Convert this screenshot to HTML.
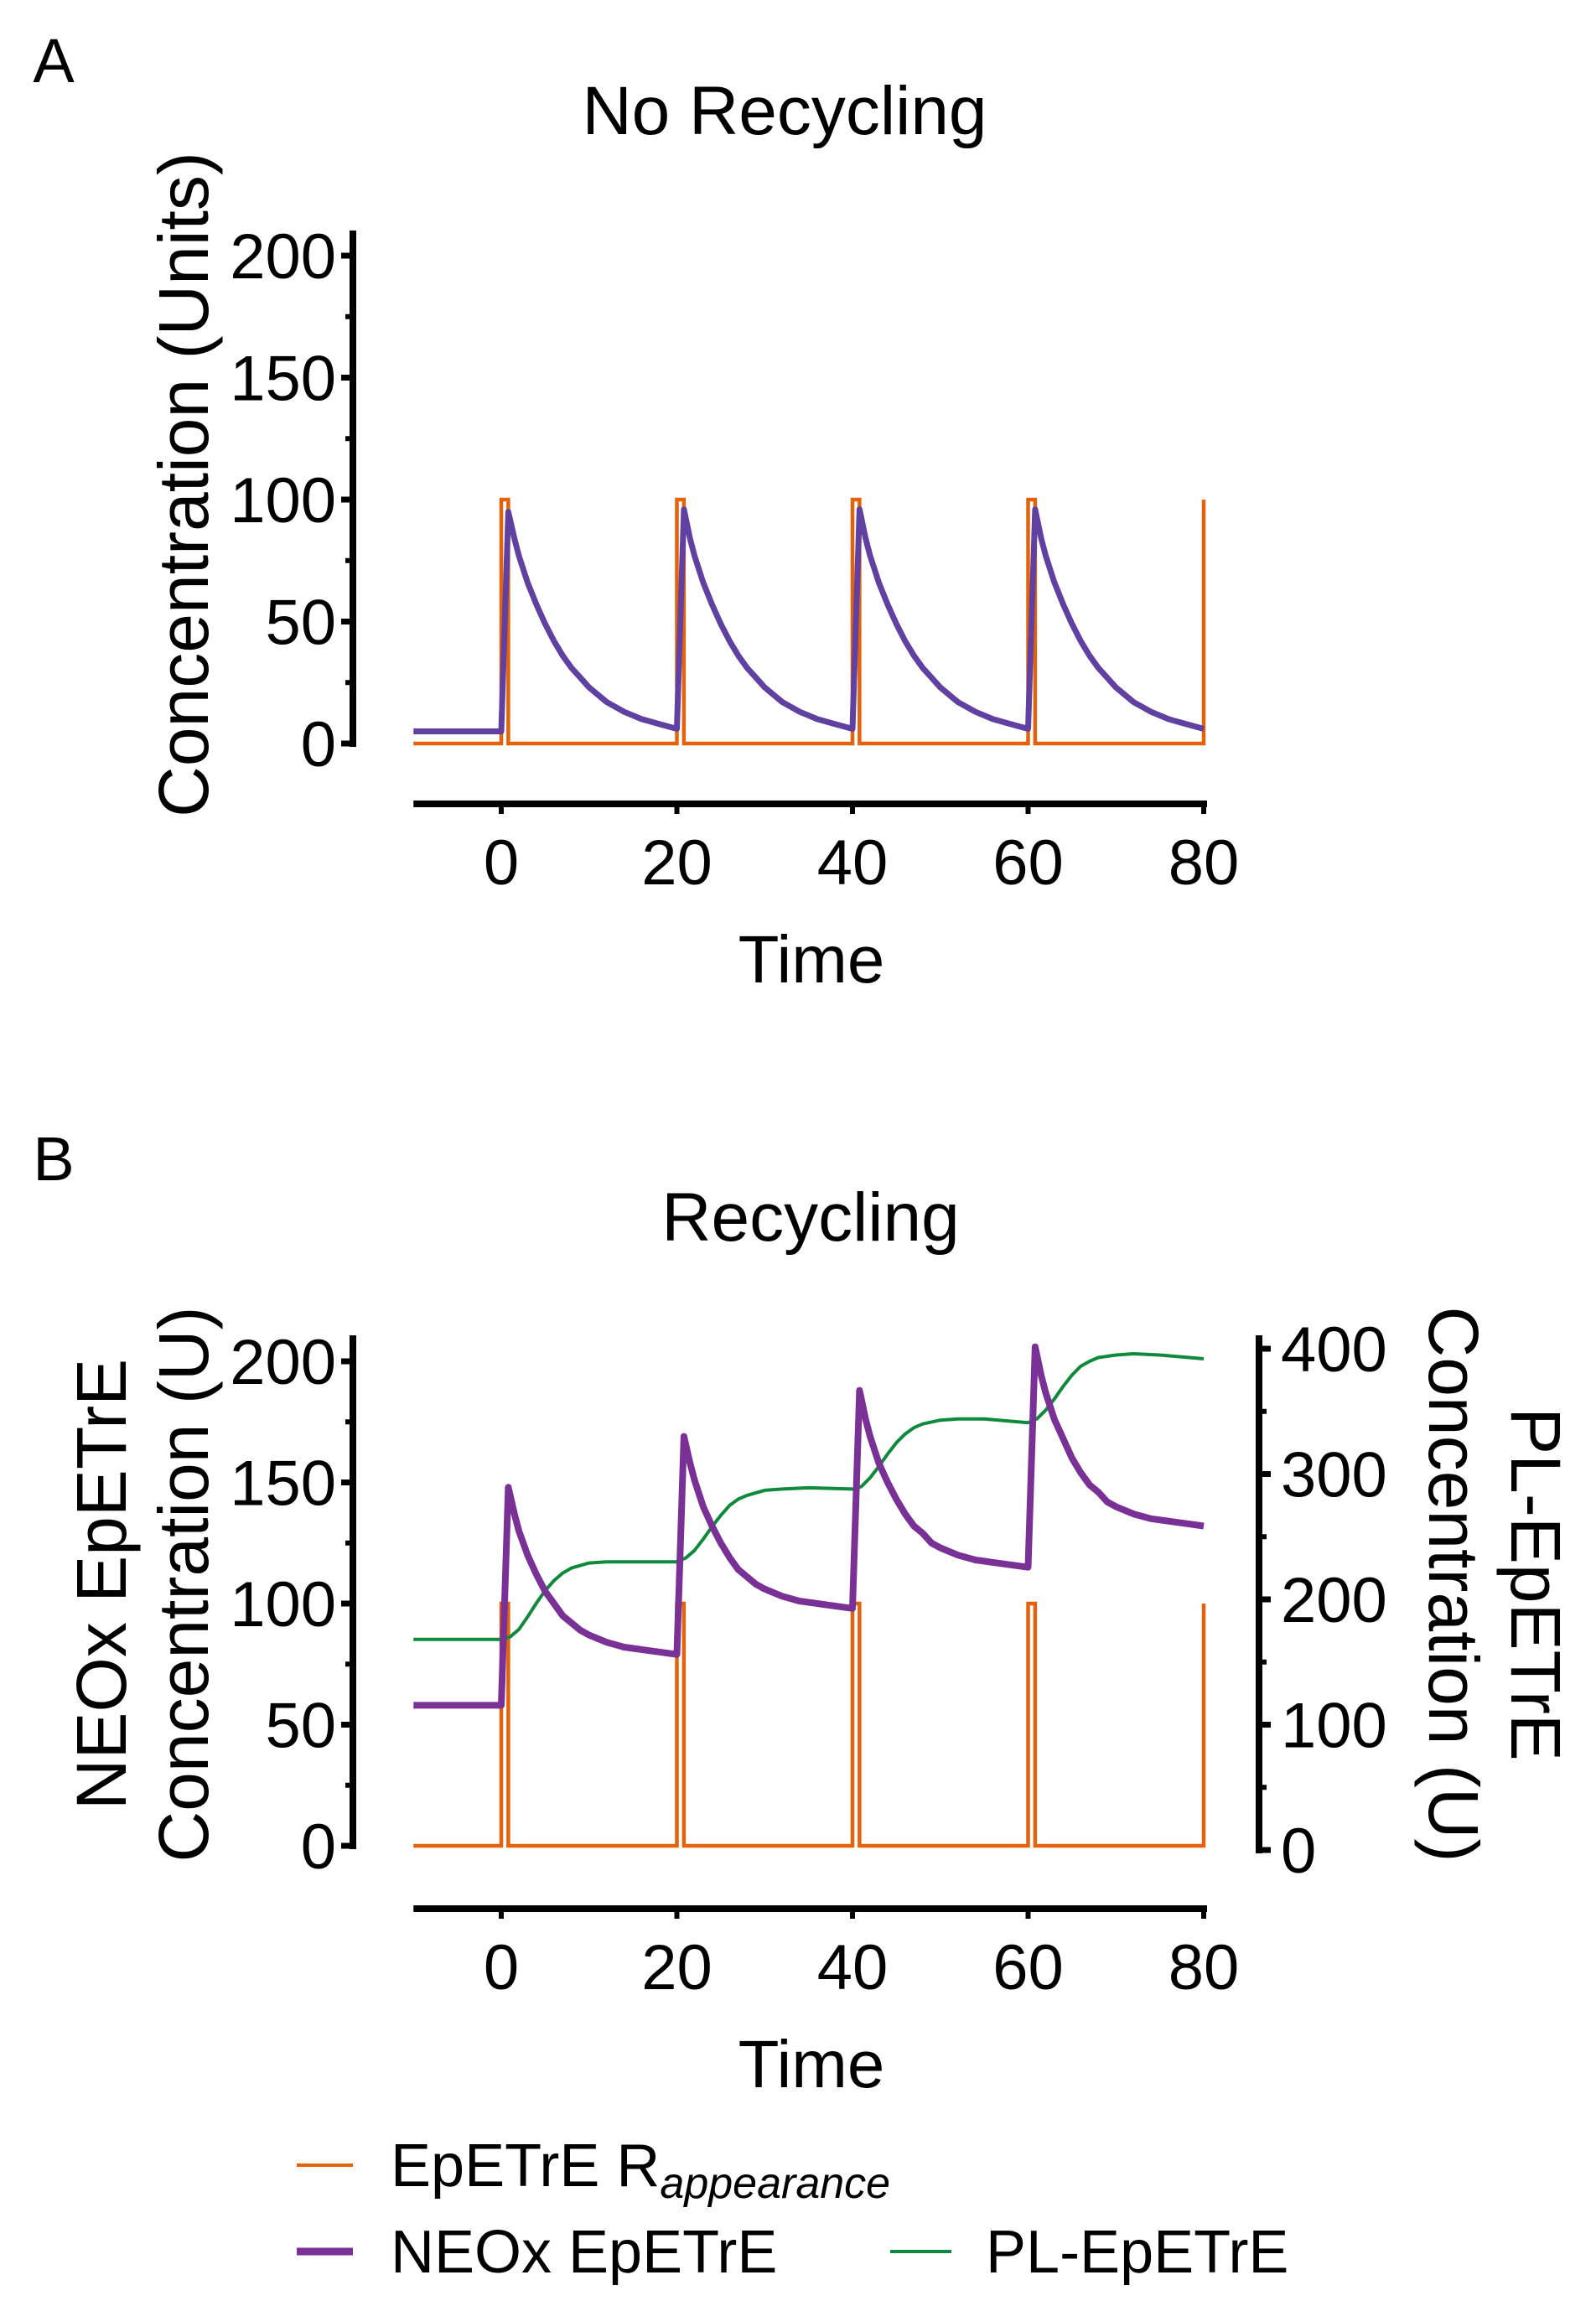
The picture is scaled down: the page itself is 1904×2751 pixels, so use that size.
<!DOCTYPE html>
<html><head><meta charset="utf-8"><style>
html,body{margin:0;padding:0;background:#fff;}
svg{display:block;font-family:"Liberation Sans",Arial,sans-serif;}
</style></head><body>
<svg id="fig" width="1904" height="2751" viewBox="0 0 1904 2751" xmlns="http://www.w3.org/2000/svg">
<text x="64" y="98" font-size="74" text-anchor="middle">A</text>
<text x="936" y="160" font-size="82" text-anchor="middle">No Recycling</text>
<text transform="translate(248,578) rotate(-90)" font-size="84" text-anchor="middle">Concentration (Units)</text>
<text x="968" y="1172" font-size="80" text-anchor="middle">Time</text>
<g id="axA"></g>
<g id="plotA"></g>

<text x="64" y="1408" font-size="74" text-anchor="middle">B</text>
<text x="967" y="1480" font-size="82" text-anchor="middle">Recycling</text>
<text transform="translate(150,1890) rotate(-90)" font-size="84" text-anchor="middle">NEOx EpETrE</text>
<text transform="translate(248,1890) rotate(-90)" font-size="84" text-anchor="middle">Concentration (U)</text>
<text transform="translate(1705,1890) rotate(90)" font-size="84" text-anchor="middle">Concentration (U)</text>
<text transform="translate(1803,1890) rotate(90)" font-size="84" text-anchor="middle">PL-EpETrE</text>
<text x="968" y="2490" font-size="80" text-anchor="middle">Time</text>
<g id="axB"></g>
<g id="plotB"></g>

<g>
<line x1="354" y1="2583" x2="421" y2="2583" stroke="#e4620c" stroke-width="4"/>
<text x="466" y="2608" font-size="72">EpETrE R<tspan font-size="52" font-style="italic" dy="14">appearance</tspan></text>
<line x1="354" y1="2686" x2="421" y2="2686" stroke="#7a3196" stroke-width="9"/>
<text x="466" y="2711" font-size="72">NEOx EpETrE</text>
<line x1="1062" y1="2686" x2="1135" y2="2686" stroke="#0f8a3c" stroke-width="4"/>
<text x="1176" y="2711" font-size="72">PL-EpETrE</text>
</g>
</svg>
<script>
// ---- data ----
const xTicks = [0, 20, 40, 60, 80];
const yTicksLeft = [0, 50, 100, 150, 200];
const yTicksRight = [0, 100, 200, 300, 400];
const pulseStarts = [0, 20, 40, 60];
const pulseWidth = 0.8;
const pulseHeight = 100;
// time samples for NEOx curves (both panels)
const tN = [-10, 0,
  0.8, 1.5, 2, 3, 4, 5, 6, 7, 8, 9, 10, 12, 14, 16, 18, 20,
  20.8, 21.5, 22, 23, 24, 25, 26, 27, 28, 29, 30, 32, 34, 36, 38, 40,
  40.8, 41.5, 42, 43, 44, 45, 46, 47, 48, 49, 50, 52, 54, 56, 58, 60,
  60.8, 61.5, 62, 63, 64, 65, 66, 67, 68, 69, 70, 72, 74, 76, 78, 80];
// Panel A: NEOx (no recycling)
const neoxA = [5, 5,
  95, 84, 77, 66, 57, 49, 42, 36, 31, 27, 23, 17, 13, 10, 8, 6,
  96, 84, 77, 66, 57, 49, 42, 36, 31, 27, 23, 17, 13, 10, 8, 6,
  96, 84, 77, 66, 57, 49, 42, 36, 31, 27, 23, 17, 13, 10, 8, 6,
  96, 84, 77, 66, 57, 49, 42, 36, 31, 27, 23, 17, 13, 10, 8, 6];
// Panel B: NEOx (recycling), left axis
const neoxB = [58, 58,
  148, 137, 130, 120, 112, 105, 100, 95, 92, 89, 87, 84, 82, 81, 80, 79,
  169, 158, 151, 140, 132, 125, 119, 114, 111, 108, 106, 103, 101, 100, 99, 98,
  188, 176, 169, 158, 150, 143, 137, 132, 129, 125, 123, 120, 118, 117, 116, 115,
  206, 194, 187, 176, 168, 160, 154, 149, 146, 142, 140, 137, 135, 134, 133, 132];
// Panel B: PL-EpETrE, right axis
const tPL = [-10, 0, 1, 2, 3, 4, 5, 6, 7, 8, 10, 12, 15, 20, 21, 22, 23, 24, 25, 26, 27, 28, 30, 32, 35, 40, 41, 42, 43, 44, 45, 46, 47, 48, 50, 52, 55, 60, 61, 62, 63, 64, 65, 66, 67, 68, 70, 72, 75, 80];
const plB = [168, 168, 170, 176, 186, 197, 207, 215, 221, 225, 229, 230, 230, 230, 233, 239, 248, 258, 267, 275, 280, 283, 287, 288, 289, 288, 290, 297, 306, 316, 325, 332, 337, 340, 343, 344, 344, 341, 344, 351, 360, 370, 379, 386, 390, 393, 395, 396, 395, 392];

// ---- scales ----
const NS = 'http://www.w3.org/2000/svg';
const xS = t => 598 + t * (1436 - 598) / 80;
const yA = v => 887 - v * (887 - 305) / 200;
const yBL = v => 2202 - v * (2202 - 1624) / 200;
const yBR = v => 2207 - v * (2207 - 1609) / 400;

function mk(parent, tag, attrs) {
  const e = document.createElementNS(NS, tag);
  for (const k in attrs) e.setAttribute(k, attrs[k]);
  parent.appendChild(e);
  return e;
}
function pathFrom(xs, ys, ysc) {
  return xs.map((t, i) => (i ? 'L' : 'M') + xS(t).toFixed(1) + ',' + ysc(ys[i]).toFixed(1)).join(' ');
}
function pulsePath(ysc) {
  let d = 'M' + xS(-10) + ',' + ysc(0);
  pulseStarts.forEach(s => {
    d += ' L' + xS(s) + ',' + ysc(0) + ' L' + xS(s) + ',' + ysc(pulseHeight) +
         ' L' + xS(s + pulseWidth) + ',' + ysc(pulseHeight) + ' L' + xS(s + pulseWidth) + ',' + ysc(0);
  });
  d += ' L' + xS(80) + ',' + ysc(0) + ' L' + xS(80) + ',' + ysc(pulseHeight);
  return d;
}
function leftAxis(g, ysc, top, prefix) {
  const ax = 421;
  const l = mk(g, 'line', {x1: ax, y1: top, x2: ax, y2: ysc(0) + 4, stroke: '#000', 'stroke-width': 8});
  
  
  yTicksLeft.forEach((v, i) => {
    const tk = mk(g, 'line', {x1: ax - 14, y1: ysc(v), x2: ax, y2: ysc(v), stroke: '#000', 'stroke-width': 7});
    
    
    if (i < yTicksLeft.length - 1) {
      const mn = mk(g, 'line', {x1: ax - 9, y1: ysc(v + 25), x2: ax, y2: ysc(v + 25), stroke: '#000', 'stroke-width': 6});
      
      
    }
    const tx = mk(g, 'text', {x: ax - 20, y: ysc(v) + 27, 'font-size': 76, 'text-anchor': 'end'});
    tx.textContent = v;
    
    
  });
}
function xAxis(g, y, prefix) {
  const l = mk(g, 'line', {x1: xS(-10), y1: y, x2: xS(80) + 4, y2: y, stroke: '#000', 'stroke-width': 8});
  
  
  xTicks.forEach(t => {
    const tk = mk(g, 'line', {x1: xS(t), y1: y, x2: xS(t), y2: y + 12, stroke: '#000', 'stroke-width': 6});
    
    
    const tx = mk(g, 'text', {x: xS(t), y: y + 96, 'font-size': 76, 'text-anchor': 'middle'});
    tx.textContent = t;
    
    
  });
}

// Panel A
const axA = document.getElementById('axA');
leftAxis(axA, yA, 275, 'panel-a');
xAxis(axA, 959, 'panel-a');
const pA = document.getElementById('plotA');
const oA = mk(pA, 'path', {d: pulsePath(yA), fill: 'none', stroke: '#e4620c', 'stroke-width': 4.5});


const nA = mk(pA, 'path', {d: pathFrom(tN, neoxA, yA), fill: 'none', stroke: '#6040a0', 'stroke-width': 7, 'stroke-linejoin': 'round'});



// Panel B
const axB = document.getElementById('axB');
leftAxis(axB, yBL, 1593, 'panel-b');
xAxis(axB, 2277, 'panel-b');
const rx = 1502;
const rl = mk(axB, 'line', {x1: rx, y1: 1593, x2: rx, y2: yBR(0) + 4, stroke: '#000', 'stroke-width': 8});


yTicksRight.forEach((v, i) => {
  const tk = mk(axB, 'line', {x1: rx, y1: yBR(v), x2: rx + 14, y2: yBR(v), stroke: '#000', 'stroke-width': 7});
  
  
  if (i < yTicksRight.length - 1) {
    const mn = mk(axB, 'line', {x1: rx, y1: yBR(v + 50), x2: rx + 9, y2: yBR(v + 50), stroke: '#000', 'stroke-width': 6});
    
    
  }
  const tx = mk(axB, 'text', {x: rx + 26, y: yBR(v) + 27, 'font-size': 76, 'text-anchor': 'start'});
  tx.textContent = v;
  
  
});
const pB = document.getElementById('plotB');
const oB = mk(pB, 'path', {d: pulsePath(yBL), fill: 'none', stroke: '#e4620c', 'stroke-width': 4.5});


const gB = mk(pB, 'path', {d: pathFrom(tPL, plB, yBR), fill: 'none', stroke: '#0f8a3c', 'stroke-width': 4, 'stroke-linejoin': 'round'});


const nB = mk(pB, 'path', {d: pathFrom(tN, neoxB, yBL), fill: 'none', stroke: '#7a3196', 'stroke-width': 8, 'stroke-linejoin': 'round'});


</script>
</body></html>
